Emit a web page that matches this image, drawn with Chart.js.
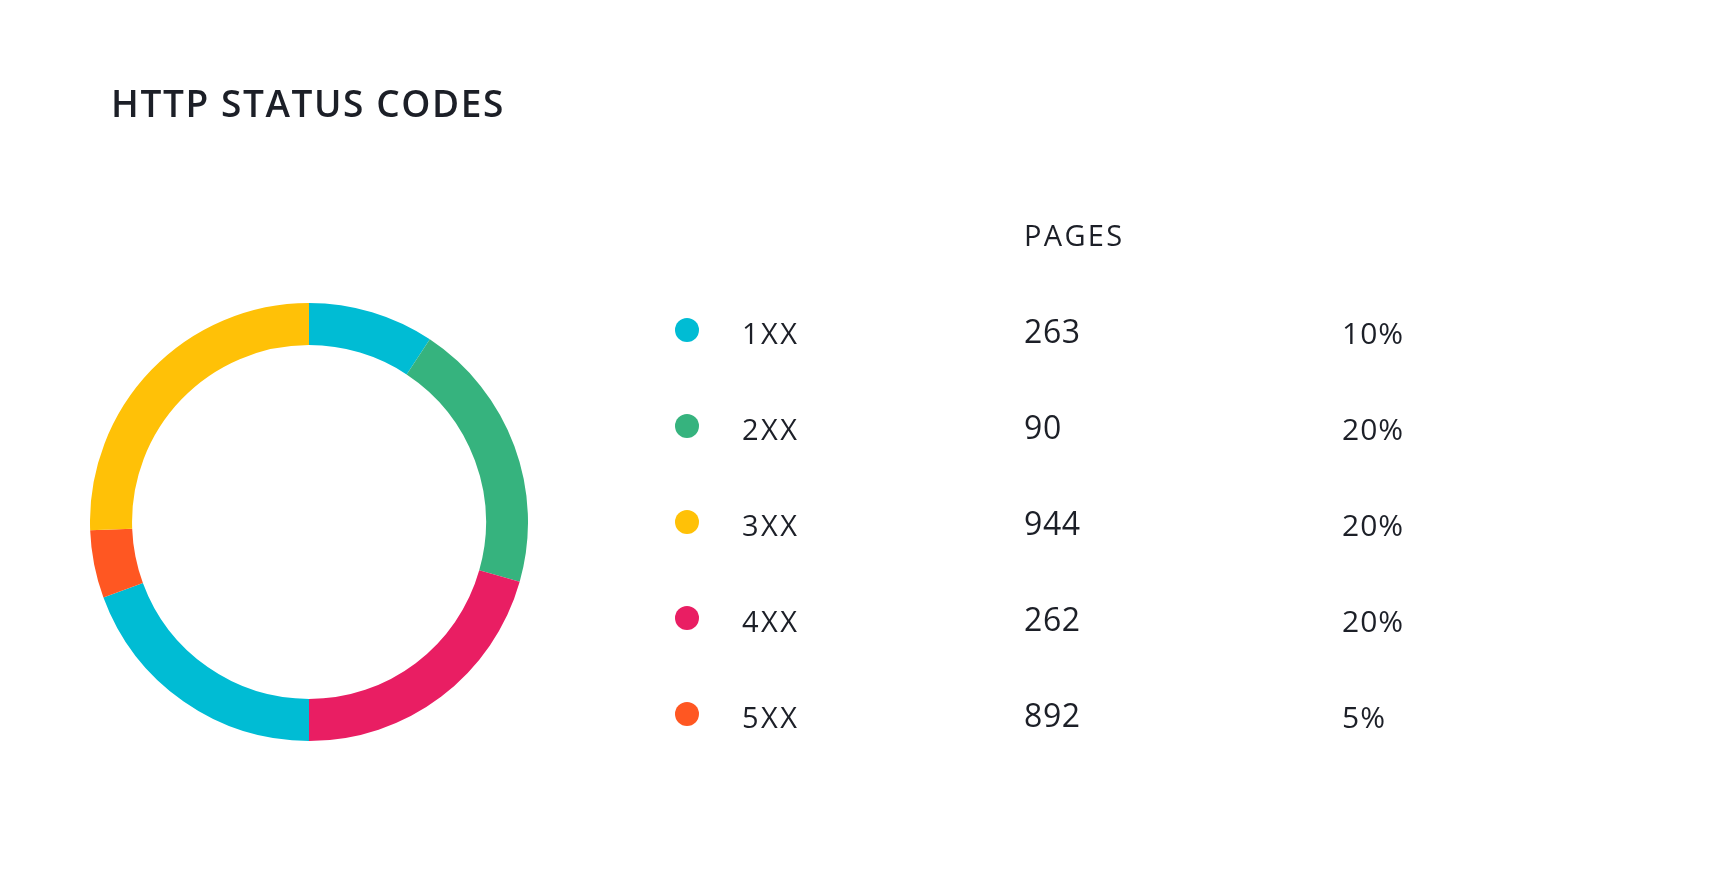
<!DOCTYPE html>
<html>
<head>
<meta charset="utf-8">
<script src="https://cdn.jsdelivr.net/npm/chart.js@4/dist/chart.umd.min.js"></script>
<style>
  html, body { margin: 0; padding: 0; background: #ffffff; }
  body { width: 1725px; height: 870px; position: relative; overflow: hidden; }
  #ringBox { position: absolute; left: 90px; top: 303px; width: 438px; height: 438px; }
  #overlay { position: absolute; left: 0; top: 0; }
</style>
</head>
<body>
<div id="ringBox"><canvas id="ring"></canvas></div>
<svg id="overlay" width="1725" height="870" xmlns="http://www.w3.org/2000/svg"></svg>
<script>
// ---- data ----
const title = 'HTTP STATUS CODES';
const columnHeader = 'PAGES';
const categories = ['1XX', '2XX', '3XX', '4XX', '5XX'];
const pages = [263, 90, 944, 262, 892];
const percents = ['10%', '20%', '20%', '20%', '5%'];
const colors = ['#00BCD4', '#36B37E', '#FFC107', '#E91E63', '#FF5722'];
// ring segments, clockwise from 12 o'clock
const ringLabels = ['1XX', '2XX', '4XX', '1XX', '5XX', '3XX'];
const ringValues = [9.3, 20.1, 20.6, 19.4, 5.0, 25.6];
const ringColors = ['#00BCD4', '#36B37E', '#E91E63', '#00BCD4', '#FF5722', '#FFC107'];

// ---- doughnut ----
new Chart(document.getElementById('ring'), {
  type: 'doughnut',
  data: {
    labels: ringLabels,
    datasets: [{
      data: ringValues,
      backgroundColor: ringColors,
      borderWidth: 0,
      hoverBorderWidth: 0,
      offset: 0,
      hoverOffset: 0
    }]
  },
  options: {
    responsive: true,
    maintainAspectRatio: false,
    animation: false,
    cutout: '80.8%',
    rotation: 0,
    layout: { padding: 0 },
    plugins: { legend: { display: false }, tooltip: { enabled: false } },
    events: []
  }
});

// ---- text / legend table ----
const svg = document.getElementById('overlay');
const NS = 'http://www.w3.org/2000/svg';
const ink = '#1c1f27';
function txt(str, x, y, font, size, weight, spacing) {
  const t = document.createElementNS(NS, 'text');
  t.setAttribute('x', x); t.setAttribute('y', y);
  t.setAttribute('font-family', font);
  t.setAttribute('font-size', size);
  t.setAttribute('font-weight', weight);
  t.setAttribute('fill', ink);
  if (spacing) t.setAttribute('letter-spacing', spacing);
  t.textContent = str;
  svg.appendChild(t);
}
txt(title, 111, 117, 'Open Sans', 37, 600, 1.6);
txt(columnHeader, 1024, 246, 'Open Sans', 29, 500, 2.3);

const rowY0 = 330, rowStep = 96;
categories.forEach((c, i) => {
  const cy = rowY0 + i * rowStep;
  const dot = document.createElementNS(NS, 'circle');
  dot.setAttribute('cx', 687); dot.setAttribute('cy', cy); dot.setAttribute('r', 12);
  dot.setAttribute('fill', colors[i]);
  svg.appendChild(dot);
  txt(c, 742, cy + 13.5, 'Open Sans', 29, 400, 2.4);
  txt(String(pages[i]), 1024, cy + 13, 'Open Sans', 32, 400, 0.6);
  txt(percents[i], 1342, cy + 13.5, 'Open Sans', 30, 500, 1);
});
</script>
</body>
</html>
